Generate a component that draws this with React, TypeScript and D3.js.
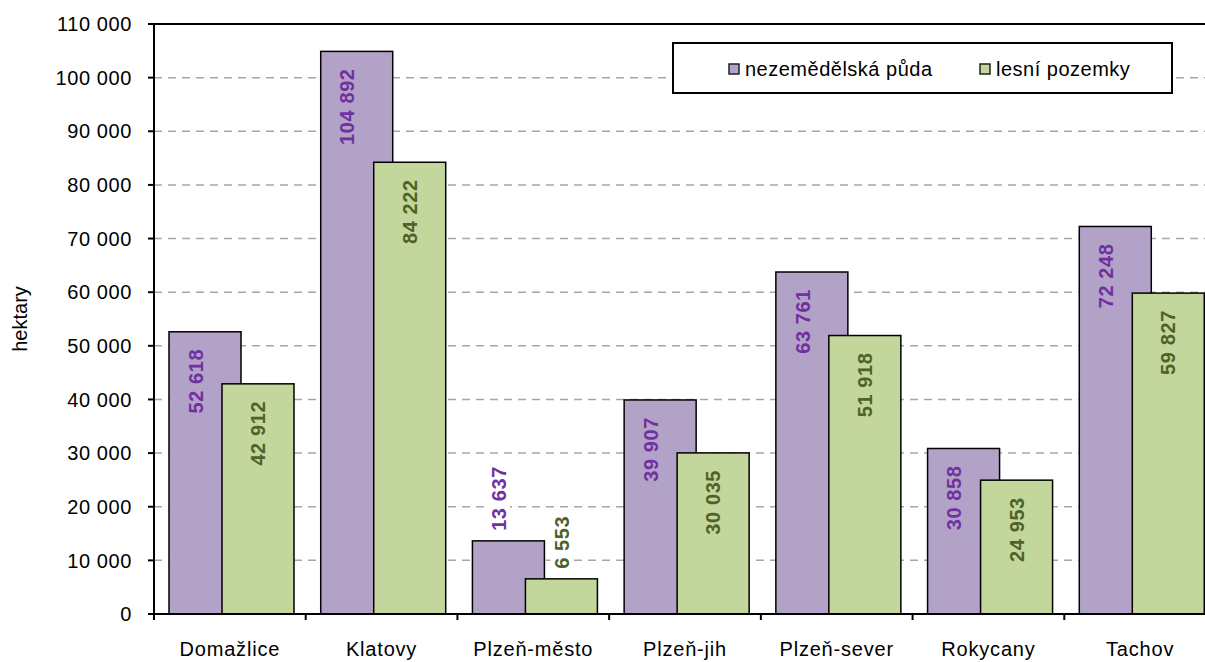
import React from 'react';
import * as d3 from 'd3';

const categories = ['Domažlice', 'Klatovy', 'Plzeň-město', 'Plzeň-jih', 'Plzeň-sever', 'Rokycany', 'Tachov'];
const nezemedelska = [52618, 104892, 13637, 39907, 63761, 30858, 72248];
const lesni = [42912, 84222, 6553, 30035, 51918, 24953, 59827];
const yTicks = [0, 10000, 20000, 30000, 40000, 50000, 60000, 70000, 80000, 90000, 100000, 110000];
const seriesNames = ['nezemědělská půda', 'lesní pozemky'];

const W = 1205;
const H = 662;
const FONT = '"Liberation Sans", Arial, sans-serif';
const colors = { purple: '#B3A2C7', green: '#C3D69B', purpleText: '#7030A0', greenText: '#4F6228' };

const fmt = (v: number) => d3.format(',')(v).replace(/,/g, ' ');

export default function App() {
	const plot = { left: 154, top: 24, bottom: 614, right: 1216 };
	const x = d3.scaleBand<string>().domain(categories).range([plot.left, plot.right]).padding(0);
	const y = d3.scaleLinear().domain([0, 110000]).range([plot.bottom, plot.top]);

	const purpleOff = 15;
	const greenOff = 68;
	const barW = 72;

	const label = (cx: number, val: number, color: string, key: string) => {
		const top = y(val);
		const h = plot.bottom - top;
		const outside = h < 90;
		const ty = outside ? top - 10 : top + 17;
		const txt = fmt(val);
		return (
			<g key={key} transform={`translate(${cx},${ty}) rotate(-90)`}>
				{outside && <rect x={-2} y={-11} width={txt.length * 11 + 4} height={22} fill="#fff" />}
				<text
					textAnchor={outside ? 'start' : 'end'}
					dy="0.36em"
					fill={color}
					fontWeight="bold"
					fontSize={20}
					letterSpacing={0.6}
					fontFamily={FONT}
				>
					{txt}
				</text>
			</g>
		);
	};

	return (
		<svg width={W} height={H} style={{ position: 'absolute', left: 0, top: 0, background: '#fff' }}>
			{/* grid */}
			{yTicks.filter((t) => t > 0 && t < 110000).map((t) => (
				<line key={t} x1={plot.left} x2={W} y1={y(t)} y2={y(t)} stroke="#A6A6A6" strokeWidth={1.5} strokeDasharray="8,6" />
			))}
			<line x1={plot.left} x2={W} y1={plot.top} y2={plot.top} stroke="#000" strokeWidth={2} />

			{/* bars */}
			{categories.map((c, i) => (
				<g key={c}>
					<rect x={x(c)! + purpleOff} y={y(nezemedelska[i])} width={barW} height={plot.bottom - y(nezemedelska[i])} fill={colors.purple} stroke="#000" strokeWidth={1.5} />
					<rect x={x(c)! + greenOff} y={y(lesni[i])} width={barW} height={plot.bottom - y(lesni[i])} fill={colors.green} stroke="#000" strokeWidth={1.5} />
				</g>
			))}

			{/* labels */}
			{categories.map((c, i) => [
				label(x(c)! + (purpleOff + greenOff) / 2, nezemedelska[i], colors.purpleText, c + 'p'),
				label(x(c)! + greenOff + barW / 2, lesni[i], colors.greenText, c + 'g'),
			])}

			{/* axes */}
			<line x1={plot.left} x2={plot.left} y1={plot.top - 1} y2={plot.bottom + 6} stroke="#000" strokeWidth={2} />
			<line x1={plot.left - 6} x2={W} y1={plot.bottom} y2={plot.bottom} stroke="#000" strokeWidth={2} />
			{yTicks.map((t) => (
				<g key={t}>
					<line x1={plot.left - 6} x2={plot.left} y1={y(t)} y2={y(t)} stroke="#000" strokeWidth={2} />
					<text x={132} y={y(t)} dy="0.36em" textAnchor="end" fontSize={20} letterSpacing={0.6} fontFamily={FONT} fill="#000">
						{fmt(t)}
					</text>
				</g>
			))}
			{categories.map((c) => (
				<g key={c}>
					<line x1={x(c)! + x.bandwidth()} x2={x(c)! + x.bandwidth()} y1={plot.bottom} y2={plot.bottom + 6} stroke="#000" strokeWidth={2} />
					<text x={x(c)! + x.bandwidth() / 2} y={656} textAnchor="middle" fontSize={20} letterSpacing={0.8} fontFamily={FONT} fill="#000">
						{c}
					</text>
				</g>
			))}
			<text transform={`translate(27,${(plot.top + plot.bottom) / 2}) rotate(-90)`} textAnchor="middle" fontSize={20} fontFamily={FONT} fill="#000">
				hektary
			</text>

			{/* legend */}
			<rect x={673} y={43} width={499} height={50} fill="#fff" stroke="#000" strokeWidth={2} />
			{seriesNames.map((s, i) => {
				const lx = i === 0 ? 729 : 980;
				return (
					<g key={s}>
						<rect x={lx} y={64} width={10} height={10} fill={i === 0 ? colors.purple : colors.green} stroke="#222" strokeWidth={1.5} />
						<text x={lx + 16} y={76} fontSize={20} letterSpacing={0.5} fontFamily={FONT} fill="#000">
							{s}
						</text>
					</g>
				);
			})}
		</svg>
	);
}
